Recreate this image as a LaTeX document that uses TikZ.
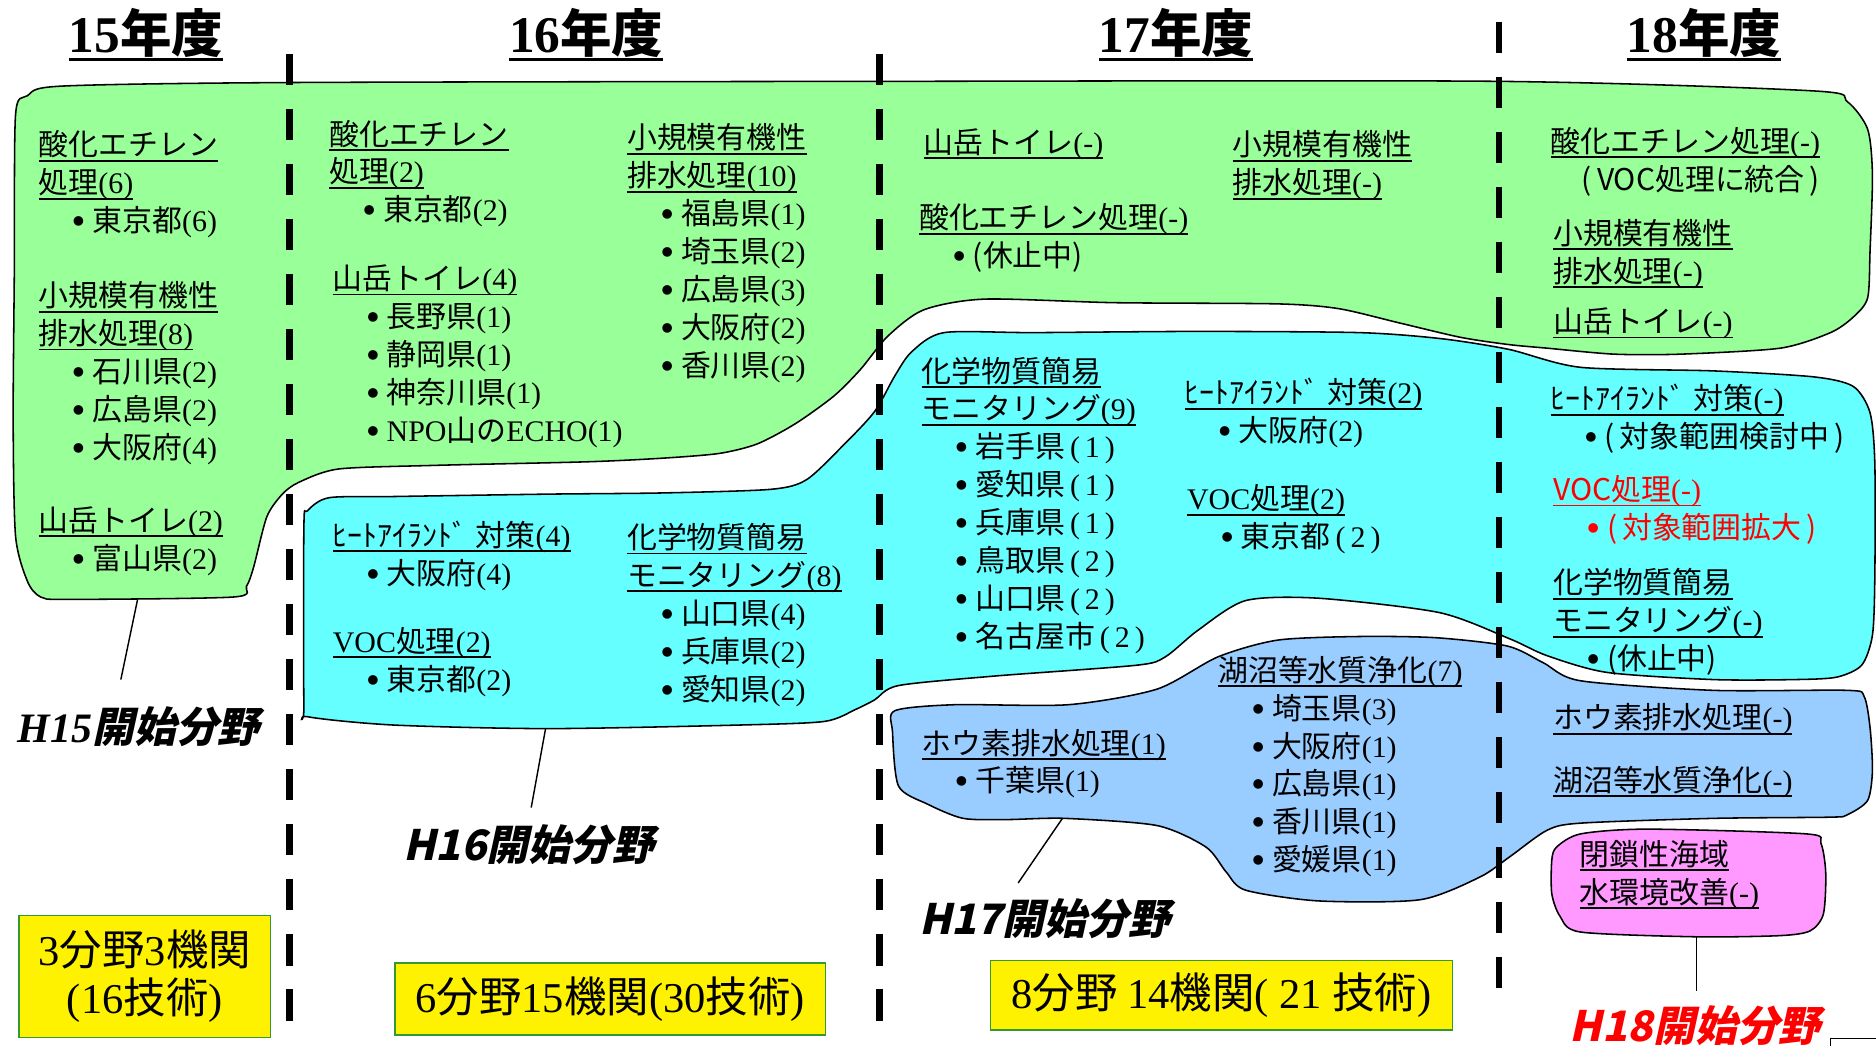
\documentclass[tikz,border=0pt]{standalone}
\usepackage{fontspec}
\setmainfont{Noto Sans CJK JP}
\newfontfamily\tmfont{Liberation Serif}
\newfontfamily\startfont[FakeSlant=0.22]{Noto Sans CJK JP}
\definecolor{fieldgreen}{HTML}{99FF99}
\definecolor{fieldcyan}{HTML}{66FFFF}
\definecolor{fieldblue}{HTML}{99CCFF}
\definecolor{fieldpink}{HTML}{FF99FF}
\definecolor{tallyedge}{HTML}{339933}
\definecolor{newred}{HTML}{FF0000}
\newsavebox\hdbox
\newcommand\hd[1]{\sbox\hdbox{#1}\rlap{\rule[-5pt]{\wd\hdbox}{1.5pt}}\usebox\hdbox}
\newcommand\yr[1]{\sbox\hdbox{#1}\rlap{\rule[-7pt]{\wd\hdbox}{2.5pt}}\usebox\hdbox}
\newcommand\nb[1]{{\tmfont(#1)}}
\newcommand\nbs[1]{\,{\tmfont(\,#1\,)}}
\newcommand\itm[1]{\hspace*{29pt}\raisebox{5pt}{\fontsize{9}{9}\selectfont ●}\hspace{7pt}#1}
\tikzstyle{blob} = [draw = black, line width = 1.3]
\tikzstyle{field} = [anchor = north west, inner sep = 0, align = left,
  font = \fontsize{25}{31.7}\selectfont]
\tikzstyle{year} = [font = \fontsize{43}{48}\selectfont\bfseries]
\tikzstyle{start} = [font = \fontsize{35}{40}\selectfont\bfseries]
\tikzstyle{tally} = [rectangle, draw = tallyedge, fill = yellow, line width = 1.2,
  align = center, font = \fontsize{35.5}{40}\selectfont, inner sep = 0]
\tikzstyle{divider} = [line width = 5.5, dash pattern = on 26pt off 20pt]
\tikzstyle{pointer} = [line width = 1.2]

\begin{document}
\begin{tikzpicture}[x = 1pt, y = -1pt]
  \useasboundingbox (0, 0) rectangle (1568, 874.3);

  % field areas
  \draw [blob, fill = fieldgreen] plot [smooth cycle, tension = 0.45] coordinates {
    (23,80) (51,72) (239,69) (735,68) (1253,68) (1516,76) (1544,85) (1561,108)
    (1565,146) (1563,210) (1561,249) (1549,265) (1530,278) (1488,291) (1405,296)
    (1349,296) (1293,291) (1261,288) (1221,282) (1170,270) (1119,258) (1068,254)
    (932,253) (823,250) (772,259) (742,281) (719,309) (697,331) (665,354)
    (633,371) (601,379) (553,383) (490,386) (362,389) (283,392) (250,403)
    (236,413) (223,432) (212,474) (206,490) (195,499) (56,501) (34,499)
    (23,486) (13,448) (11,352) (12,224) (13,96)};
  \draw [blob, fill = fieldcyan] plot [smooth cycle, tension = 0.45] coordinates {
    (257,427) (275,416) (329,415) (458,413) (554,412) (644,409) (674,401)
    (705,372) (731,344) (748,314) (762,294) (789,278) (864,278) (1000,277)
    (1136,278) (1204,283) (1261,292) (1321,307) (1432,310) (1516,315)
    (1549,323) (1563,345) (1567,387) (1567,483) (1565,531) (1556,556)
    (1535,566) (1500,568) (1432,568) (1343,562) (1293,548) (1262,534)
    (1203,512) (1102,500) (1041,502) (1001,527) (974,549) (950,556) (832,565)
    (751,573) (731,585) (715,593) (689,603) (618,606) (458,609) (329,606)
    (257,599) (254,590) (254,440)};
  \draw [blob, fill = fieldblue] plot [smooth cycle, tension = 0.45] coordinates {
    (748,594) (798,589) (893,589) (967,576) (1018,549) (1068,535) (1136,532)
    (1200,533) (1260,540) (1290,554) (1321,569) (1432,577) (1544,577)
    (1558,582) (1563,608) (1565,644) (1561,669) (1544,681) (1530,683)
    (1432,684) (1321,688) (1293,694) (1262,716) (1237,733) (1187,752)
    (1102,753) (1041,744) (1025,729) (1008,708) (967,690) (890,684) (842,685)
    (805,684) (775,672) (751,657) (746,612)};
  \draw [blob, fill = fieldpink] plot [smooth cycle, tension = 0.45] coordinates {
    (1301,708) (1321,697) (1377,693) (1510,697) (1522,705) (1526,730)
    (1524,764) (1513,778) (1488,782) (1418,783) (1321,779) (1304,766)
    (1297,747) (1297,719)};

  % year borders
  \foreach \x/\top/\bot in {242/45/860, 735/45/858, 1253/18/830}
    \draw [divider] (\x, \top) -- (\x, \bot);

  % years
  \node [year] (y15) at (122, 29) {\yr{{\tmfont 15}年度}};
  \node [year] (y16) at (490, 29) {\yr{{\tmfont 16}年度}};
  \node [year] (y17) at (983, 29) {\yr{{\tmfont 17}年度}};
  \node [year] (y18) at (1424, 29) {\yr{{\tmfont 18}年度}};

  % H15
  \node [field] (n15a) at (32, 109) {\hd{酸化エチレン}\\\hd{処理\nb{6}}\\
    \itm{東京都\nb{6}}};
  \node [field] (n15b) at (32, 235) {\hd{小規模有機性}\\\hd{排水処理\nb{8}}\\
    \itm{石川県\nb{2}}\\\itm{広島県\nb{2}}\\\itm{大阪府\nb{4}}};
  \node [field] (n15c) at (32, 423) {\hd{山岳トイレ\nb{2}}\\\itm{富山県\nb{2}}};

  % H16
  \node [field] (n16a) at (275, 100) {\hd{酸化エチレン}\\\hd{処理\nb{2}}\\
    \itm{東京都\nb{2}}};
  \node [field] (n16b) at (278, 221) {\hd{山岳トイレ\nb{4}}\\\itm{長野県\nb{1}}\\
    \itm{静岡県\nb{1}}\\\itm{神奈川県\nb{1}}\\
    \itm{{\tmfont NPO}山の{\tmfont ECHO}\nb{1}}};
  \node [field] (n16c) at (524, 103) {\hd{小規模有機性}\\\hd{排水処理\nb{10}}\\
    \itm{福島県\nb{1}}\\\itm{埼玉県\nb{2}}\\\itm{広島県\nb{3}}\\
    \itm{大阪府\nb{2}}\\\itm{香川県\nb{2}}};
  \node [field] (n16d) at (278, 435) {\hd{ﾋｰﾄｱｲﾗﾝﾄﾞ\hspace{7pt}対策\nb{4}}\\\itm{大阪府\nb{4}}};
  \node [field] (n16e) at (278, 524) {\hd{{\tmfont VOC}処理\nb{2}}\\\itm{東京都\nb{2}}};
  \node [field] (n16f) at (524, 437) {\hd{化学物質簡易}\\\hd{モニタリング\nb{8}}\\
    \itm{山口県\nb{4}}\\\itm{兵庫県\nb{2}}\\\itm{愛知県\nb{2}}};

  % H17
  \node [field] (n17a) at (772, 107) {\hd{山岳トイレ\nb{-}}};
  \node [field] (n17b) at (768, 170) {\hd{酸化エチレン処理\nb{-}}\\\itm{(休止中)}};
  \node [field] (n17c) at (1030, 109) {\hd{小規模有機性}\\\hd{排水処理\nb{-}}};
  \node [field] (n17d) at (770, 298) {\hd{化学物質簡易}\\\hd{モニタリング\nb{9}}\\
    \itm{岩手県\nbs{1}}\\\itm{愛知県\nbs{1}}\\\itm{兵庫県\nbs{1}}\\
    \itm{鳥取県\nbs{2}}\\\itm{山口県\nbs{2}}\\\itm{名古屋市\nbs{2}}};
  \node [field] (n17e) at (990, 316) {\hd{ﾋｰﾄｱｲﾗﾝﾄﾞ\hspace{7pt}対策\nb{2}}\\\itm{大阪府\nb{2}}};
  \node [field] (n17f) at (992, 405) {\hd{{\tmfont VOC}処理\nb{2}}\\\itm{東京都\nbs{2}}};
  \node [field] (n17g) at (770, 609) {\hd{ホウ素排水処理\nb{1}}\\\itm{千葉県\nb{1}}};
  \node [field] (n17h) at (1018, 548) {\hd{湖沼等水質浄化\nb{7}}\\
    \itm{埼玉県\nb{3}}\\\itm{大阪府\nb{1}}\\\itm{広島県\nb{1}}\\
    \itm{香川県\nb{1}}\\\itm{愛媛県\nb{1}}};

  % H18
  \node [field] (n18a) at (1296, 106) {\hd{酸化エチレン処理\nb{-}}\\
    \hspace*{26pt}(\,VOC処理に統合\,)};
  \node [field] (n18b) at (1298, 183) {\hd{小規模有機性}\\\hd{排水処理\nb{-}}};
  \node [field] (n18c) at (1298, 257) {\hd{山岳トイレ\nb{-}}};
  \node [field] (n18d) at (1296, 321) {\hd{ﾋｰﾄｱｲﾗﾝﾄﾞ\hspace{7pt}対策\nb{-}}\\
    \itm{(\,対象範囲検討中\,)}};
  \node [field, text = newred] (n18e) at (1298, 397) {\hd{VOC処理\nb{-}}\\
    \itm{(\,対象範囲拡大\,)}};
  \node [field] (n18f) at (1298, 475) {\hd{化学物質簡易}\\\hd{モニタリング\nb{-}}\\
    \itm{(休止中)}};
  \node [field] (n18g) at (1298, 588) {\hd{ホウ素排水処理\nb{-}}};
  \node [field] (n18h) at (1298, 640) {\hd{湖沼等水質浄化\nb{-}}};
  \node [field] (n18i) at (1320, 702) {\hd{閉鎖性海域}\\\hd{水環境改善\nb{-}}};

  % start labels
  \node [start] (h15) at (116, 607) {{\tmfont\itshape H15}{\startfont 開始分野}};
  \node [start] (h16) at (442, 706) {{\startfont H16開始分野}};
  \node [start] (h17) at (873, 768) {{\startfont H17開始分野}};
  \node [start, text = newred] (h18) at (1417, 857) {{\startfont H18開始分野}};

  \coordinate (g15-foot) at (115, 501);
  \coordinate (c16-foot) at (456, 609);
  \coordinate (b17-foot) at (888, 684);
  \coordinate (p18-foot) at (1418, 783);
  \coordinate (h15-tail) at (101, 568);
  \coordinate (h16-tail) at (444, 675);
  \coordinate (h17-tail) at (851, 738);
  \coordinate (h18-tail) at (1418, 828);
  \draw [pointer] (h15-tail) -- (g15-foot);
  \draw [pointer] (h16-tail) -- (c16-foot);
  \draw [pointer] (h17-tail) -- (b17-foot);
  \draw [pointer] (h18-tail) -- (p18-foot);

  % totals
  \node [tally, minimum width = 210, minimum height = 102] (t15) at (121, 816)
    {{\tmfont 3}分野{\tmfont 3}機関\\{\tmfont(16}技術{\tmfont)}};
  \node [tally, minimum width = 360, minimum height = 60] (t16) at (510, 835)
    {{\tmfont 6}分野{\tmfont 15}機関{\tmfont(30}技術{\tmfont)}};
  \node [tally, minimum width = 386, minimum height = 58] (t17) at (1021, 832)
    {{\tmfont 8}分野 {\tmfont 14}機関{\tmfont( 21 }技術{\tmfont)}};

  \draw [pointer] (1530, 874.3) -- (1530, 868) -- (1568, 868);
\end{tikzpicture}
\end{document}
